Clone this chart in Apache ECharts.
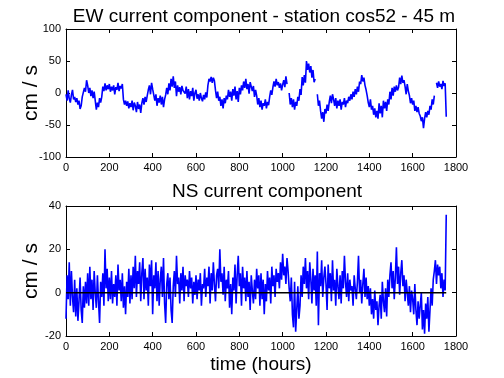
<!DOCTYPE html>
<html>
<head>
<meta charset="utf-8">
<script src="https://cdn.jsdelivr.net/npm/echarts@6/dist/echarts.min.js"></script>
<style>
  html, body { margin: 0; padding: 0; background: #fff; }
  #chart { width: 504px; height: 378px; }
</style>
</head>
<body>
<div id="chart"></div>
<script>
const hourStep = 5;

const ewSpeed = [
  -2, -12, 4, -9, -15, -3, 5, -10, -6, -14, -8, -18, -12, -25, -20, -6, -3, 8, 2, 20,
  12, 0, 8, -5, 4, -8, 2, -12, -26, -15, -22, -8, -15, -6, 10, 3, 15, 4, 12, 6,
  14, 2, 10, 4, 12, -2, 9, 5, 16, 3, 11, 7, 14, -10, -18, -12, -20, -13, -24, -16,
  -22, -12, -27, -15, -20, -30, -14, -25, -18, -31, -16, -8, -18, -6, -14, -4, 5, 12, -2, 16,
  6, -3, -12, -2, -20, -8, -15, -4, -18, -6, -22, -10, -3, 8, -2, 15, 4, 22, 10, 26,
  8, 18, -5, 12, 2, 9, -2, 11, 4, 7, -1, 10, -8, 6, -10, 3, -5, 8, -12, 0,
  5, -9, -2, -12, 0, -8, -13, -3, -10, 1, -7, 12, 22, 18, 25, 16, 24, 19, 4, -8,
  2, -12, -6, -20, -10, -24, -8, -16, -4, -10, 5, -6, 2, -12, 6, -4, 10, -10, 3, -14,
  8, -2, 12, 4, 18, 8, 22, 6, 14, -1, 17, 10, 3, 11, -6, 5, -4, -18, -8, -22,
  -12, -26, -16, -20, -10, -24, -14, -19, -6, 4, -3, 9, 18, 10, 22, 12, 17, 8, 15, 4,
  13, 20, 9, 26, 14, null, 0, -18, -8, -22, -10, -26, -14, -20, -6, -12, 6, -3, 25, 12,
  28, 16, 50, 36, 46, 32, 42, 24, 36, 17, 22, null, -2, -20, -12, -28, -40, -30, -45, -25,
  -32, -18, -28, -14, -4, -16, -2, -10, -20, -8, -24, -12, -20, -10, -26, -14, -18, -8, -22, -12,
  -16, -6, -12, -2, -10, 2, -6, 6, -2, 10, 2, 18, 14, 28, 18, 24, 12, 5, -4, -15,
  -22, -10, -26, -20, -34, -24, -38, -28, -40, -16, -32, -20, -38, -12, -24, -14, -28, -10, -18, 2,
  -10, 8, -4, 10, 2, 12, 4, 9, 24, 14, 27, 16, 20, 10, -2, 14, 3, -4, -16, -8,
  -18, -12, -28, -20, -30, -22, -32, -36, -44, -38, -55, -40, -30, -38, -28, -34, -20, -26, -10, -18,
  -4, null, 16, 8, 18, 10, 14, 6, 19, 11, 15, -37
];

const nsSpeed = [
  -12, 8, -3, 14, -6, 10, -2, -9, 6, -11, 2, -13, -4, 7, -8, -14, 3, -7, 5, -5,
  9, -6, 12, -3, 6, -8, 10, 0, -7, 8, -4, -14, 5, -2, 9, -6, 20, 2, 11, -4,
  7, -3, 10, -5, 4, -2, 8, -6, 13, 1, 6, -4, 9, -7, 3, -10, 5, -2, 11, -5,
  8, -3, 12, 2, 17, -2, 10, 4, 14, -4, 9, 16, -3, 11, 1, 7, -6, 13, 3, 15,
  -10, 8, 2, 14, -4, 10, -6, 6, 12, -2, 16, -5, -14, 4, 9, -3, 7, -8, -14, 3,
  10, -2, 17, 4, 7, -5, 9, 1, 12, -4, 8, 3, 6, -2, 10, 2, 7, -5, 5, -1,
  8, -3, 6, 1, 9, -6, 4, 2, 11, -2, 7, 3, 12, -5, 9, 1, 14, 4, -4, 8,
  11, 2, 20, 5, 9, -1, 12, -4, 6, 2, 10, -7, 4, -10, 7, 1, 13, -5, 8, 17,
  3, 9, -6, 12, 2, 7, -4, 10, -2, 5, -8, 8, 1, -5, 6, -3, 11, 2, 8, -6,
  9, -3, 6, -10, 4, -4, 10, 1, 7, -5, 12, 3, 8, -2, 11, 5, 9, 2, 14, 6,
  18, 8, 12, 4, 16, 10, 2, -4, 7, -10, -16, 5, -18, -8, 3, -12, -6, 8, -2, 12,
  4, 16, 2, 10, -3, 14, 6, -5, 11, 1, 8, -6, 19, -15, 9, 3, 15, -2, 7, 12,
  4, -8, 13, 2, 9, -4, 15, 1, 6, -6, 11, 3, -3, 8, -5, 10, 2, 17, 5, -2,
  9, -4, 6, 1, 3, -6, 8, 2, -3, 5, 17, 0, 6, -5, 4, 11, -2, 7, -3, 3,
  -6, 2, -10, -3, -12, 1, -8, -4, -15, -6, -1, -12, 5, -4, -9, 2, -11, 6, -2, 8,
  14, 2, 10, -3, 7, 21, 4, 12, -1, 9, 15, 3, 8, -4, 6, 0, -6, 3, -9, 1,
  -3, -10, 4, -8, -15, -4, -12, -6, 0, -17, -8, -19, -5, -12, -2, -18, -8, 2, -6, 6,
  10, 15, 4, 13, 8, 12, 2, 9, -2, 6, 1, 36
];

const zeroLineHours = [0, 1755];

const font = "Liberation Sans, Arial, sans-serif";

const chart = echarts.init(document.getElementById("chart"));

const toPairs = (vals) => vals.map((v, i) => [i * hourStep, v]);

const tickLabel = { fontSize: 11, color: "#000", fontFamily: font, formatter: (v) => String(v) };
const boxLine = { show: true, onZero: false, lineStyle: { color: "#000", width: 1 } };
const inTick = { show: true, inside: true, length: 4, lineStyle: { color: "#000" } };

function xAxes(gridIndex, name) {
  return [
    {
      gridIndex, type: "value", min: 0, max: 1800, interval: 200, position: "bottom",
      axisLine: boxLine, axisTick: inTick, splitLine: { show: false },
      axisLabel: Object.assign({ margin: 5 }, tickLabel),
      name: name || "", nameLocation: "middle", nameGap: 19,
      nameTextStyle: { fontSize: 19, color: "#000", fontFamily: font }
    },
    {
      gridIndex, type: "value", min: 0, max: 1800, interval: 200, position: "top",
      axisLine: boxLine, axisTick: inTick, axisLabel: { show: false }, splitLine: { show: false }
    }
  ];
}

function yAxes(gridIndex, min, max, interval) {
  return [
    {
      gridIndex, type: "value", min, max, interval, position: "left",
      axisLine: boxLine, axisTick: inTick, splitLine: { show: false },
      axisLabel: Object.assign({ margin: 5 }, tickLabel)
    },
    {
      gridIndex, type: "value", min, max, interval, position: "right",
      axisLine: boxLine, axisTick: inTick, axisLabel: { show: false }, splitLine: { show: false }
    }
  ];
}

// rotated "cm / s" labels, centred on each plot box
const yName = (cy) => ({
  type: "text", x: 31, y: cy, rotation: Math.PI / 2,
  style: {
    text: "cm / s", fill: "#000", font: "21px " + font,
    textAlign: "center", textVerticalAlign: "middle"
  }
});

const option = {
  animation: false,
  backgroundColor: "#fff",
  title: [
    {
      text: "EW current component - station cos52 - 45 m",
      left: 259, top: 2, textAlign: "center",
      textStyle: { fontSize: 19, fontWeight: "normal", color: "#000", fontFamily: font }
    },
    {
      text: "NS current component",
      left: 262, top: 177, textAlign: "center",
      textStyle: { fontSize: 19, fontWeight: "normal", color: "#000", fontFamily: font }
    }
  ],
  grid: [
    { left: 66, top: 29, width: 390, height: 128 },
    { left: 66, top: 206, width: 390, height: 130 }
  ],
  graphic: [yName(93), yName(271)],
  xAxis: [].concat(xAxes(0), xAxes(1, "time (hours)")),
  yAxis: [].concat(yAxes(0, -100, 100, 50), yAxes(1, -20, 40, 20)),
  series: [
    {
      name: "EW", type: "line", xAxisIndex: 0, yAxisIndex: 0,
      data: toPairs(ewSpeed), showSymbol: false, connectNulls: false,
      lineStyle: { color: "#0000ff", width: 1.6 }
    },
    {
      name: "NS", type: "line", xAxisIndex: 2, yAxisIndex: 2,
      data: toPairs(nsSpeed), showSymbol: false,
      lineStyle: { color: "#0000ff", width: 1.6 }
    },
    {
      name: "zero", type: "line", xAxisIndex: 2, yAxisIndex: 2,
      data: zeroLineHours.map((h) => [h, 0]), showSymbol: false,
      lineStyle: { color: "#000", width: 1.5 }, z: 3
    }
  ]
};

chart.setOption(option);
</script>
</body>
</html>
